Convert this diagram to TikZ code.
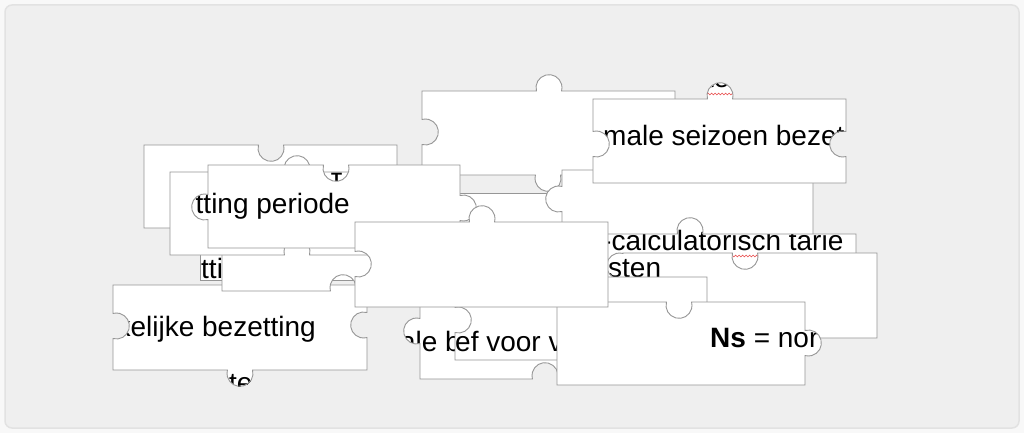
\documentclass[tikz,border=0pt]{standalone}
\usepackage{fontspec}
\setmainfont{Liberation Sans}
\usetikzlibrary{decorations.pathmorphing}
\definecolor{outerbg}{RGB}{248,248,248}
\definecolor{panelbg}{RGB}{239,239,239}
\definecolor{panelline}{RGB}{226,226,226}
\definecolor{edgegray}{RGB}{150,150,150}
\definecolor{squiggle}{RGB}{232,70,70}
% knob (k) and notch (n) pieces of a puzzle edge, centre #1/#2
\newcommand\kup[2]{-- ({#1-12.56},#2) arc[start angle=195,end angle=-15,radius=13pt]}
\newcommand\nup[2]{-- ({#1-12.56},#2) arc[start angle=165,end angle=375,radius=13pt]}
\newcommand\kright[2]{-- (#1,{#2-12.56}) arc[start angle=105,end angle=-105,radius=13pt]}
\newcommand\nright[2]{-- (#1,{#2-12.56}) arc[start angle=75,end angle=285,radius=13pt]}
\newcommand\kdown[2]{-- ({#1+12.56},#2) arc[start angle=15,end angle=-195,radius=13pt]}
\newcommand\ndown[2]{-- ({#1+12.56},#2) arc[start angle=-15,end angle=195,radius=13pt]}
\newcommand\kleft[2]{-- (#1,{#2+12.56}) arc[start angle=-75,end angle=-285,radius=13pt]}
\newcommand\nleft[2]{-- (#1,{#2+12.56}) arc[start angle=255,end angle=465,radius=13pt]}
\newcommand\drawpiece[2]{\fill[white] #1; \begin{scope}\clip #1; #2\end{scope} \draw[edge] #1;}
% the pieces
\newcommand\pcA{(144,145) \nup{271}{145} -- (397,145) -- (397,228) -- (144,228) -- cycle}
\newcommand\pcP{(422,91) \kup{549}{91} -- (675,91) -- (675,175) \kdown{548}{175} -- (422,175) \nleft{422}{132} -- cycle}
\newcommand\pcM{(440,193) -- (692,193) -- (692,277) -- (440,277) -- cycle}
\newcommand\pcQ{(562,170) -- (813,170) -- (813,254) -- (562,254) \kleft{562}{199} -- cycle}
\newcommand\pcS{(593,99) \kup{720}{99} -- (846,99) \nright{846}{144} -- (846,183) -- (593,183) \nleft{593}{144} -- cycle}
\newcommand\pcD{(200,196) -- (452,196) -- (452,280) -- (200,280) -- cycle}
\newcommand\pcG{(113,285) -- (367,285) \nright{367}{325} -- (367,370) \kdown{240}{370} -- (113,370) \nleft{113}{326} -- cycle}
\newcommand\pcF{(222,207) -- (474,207) -- (474,291) \ndown{343}{291} -- (222,291) -- cycle}
\newcommand\pcB{(170,172) \kup{297}{172} -- (422,172) -- (422,255) \ndown{297}{255} -- (170,255) -- cycle}
\newcommand\pcC{(208,165) \nup{336}{165} -- (460,165) \kright{460}{208} -- (460,248) -- (208,248) \kleft{208}{207} -- cycle}
\newcommand\pcR{(600,234) \kup{690}{234} -- (856,234) -- (856,318) -- (600,318) -- cycle}
\newcommand\pcK{(623,253) \nup{745}{253} -- (877,253) -- (877,338) -- (623,338) \kleft{623}{266} -- cycle}
\newcommand\pcH{(420,296) -- (672,296) -- (672,379) \ndown{545}{379} -- (420,379) \kleft{420}{331} -- cycle}
\newcommand\pcI{(455,277) -- (707,277) -- (707,360) -- (455,360) \nleft{455}{320} -- cycle}
\newcommand\pcJ{(557,302) \nup{679}{302} -- (805,302) \kright{805}{343} -- (805,385) -- (557,385) -- cycle}
\newcommand\pcE{(355,222) \kup{482}{222} -- (608,222) -- (608,307) -- (355,307) \nleft{355}{264} -- cycle}
\tikzset{
  edge/.style={draw=edgegray, line width=0.9pt},
  lbl/.style={inner sep=0pt, text=black, font=\fontsize{28}{32}\selectfont},
  typo/.style={draw=squiggle, line width=0.6pt, decorate, decoration={snake, amplitude=0.9pt, segment length=3.5pt}}
}
\begin{document}
\begin{tikzpicture}[x=1pt, y=-1pt]
\useasboundingbox (0,0) rectangle (1024,433);
\fill[outerbg] (0,0) rectangle (1024,433);
\draw[panelline, fill=panelbg, line width=1.5pt, rounded corners=7pt] (5,5) rectangle (1019,428);
\drawpiece{\pcA}{}
\drawpiece{\pcP}{}
\drawpiece{\pcM}{}
\drawpiece{\pcQ}{}
\drawpiece{\pcS}{
  \node[lbl, anchor=base west] (seizoen) at (603,145) {male seizoen bezet};
  \node[lbl, anchor=base west] (seizoentop) at (706,88) {te};
  \draw[typo] (707,94) -- (734,94);}
\drawpiece{\pcD}{\node[lbl, anchor=base west] (tti) at (201,278) {tti};}
\drawpiece{\pcG}{
  \node[lbl, anchor=base east] (werkelijk) at (316,336) {kelijke bezetting};
  \node[lbl, anchor=base west] (werkelijkte) at (229,392) {te};}
\drawpiece{\pcF}{}
\drawpiece{\pcB}{\node[lbl, anchor=base west, font=\fontsize{18}{20}\selectfont] (capB) at (331,185) {\textbf{T}};}
\drawpiece{\pcC}{\node[lbl, anchor=base east] (periode) at (350,213) {tting periode};}
\drawpiece{\pcR}{
  \node[lbl, anchor=base west] (tarief) at (602,250) {-calculatorisch tarie};
  \draw[typo] (612,256) -- (763,256);}
\drawpiece{\pcK}{\node[lbl, anchor=base west] (kosten) at (608,277) {sten};}
\drawpiece{\pcH}{\node[lbl, anchor=base east] (bfleft) at (461,351) {ale b};}
\drawpiece{\pcI}{\node[lbl, anchor=base west] (bfright) at (455,351) {ef voor va};}
\drawpiece{\pcJ}{\node[lbl, anchor=base west] (norm) at (710,347) {\textbf{Ns} = nor};}
\drawpiece{\pcE}{}
\end{tikzpicture}
\end{document}
